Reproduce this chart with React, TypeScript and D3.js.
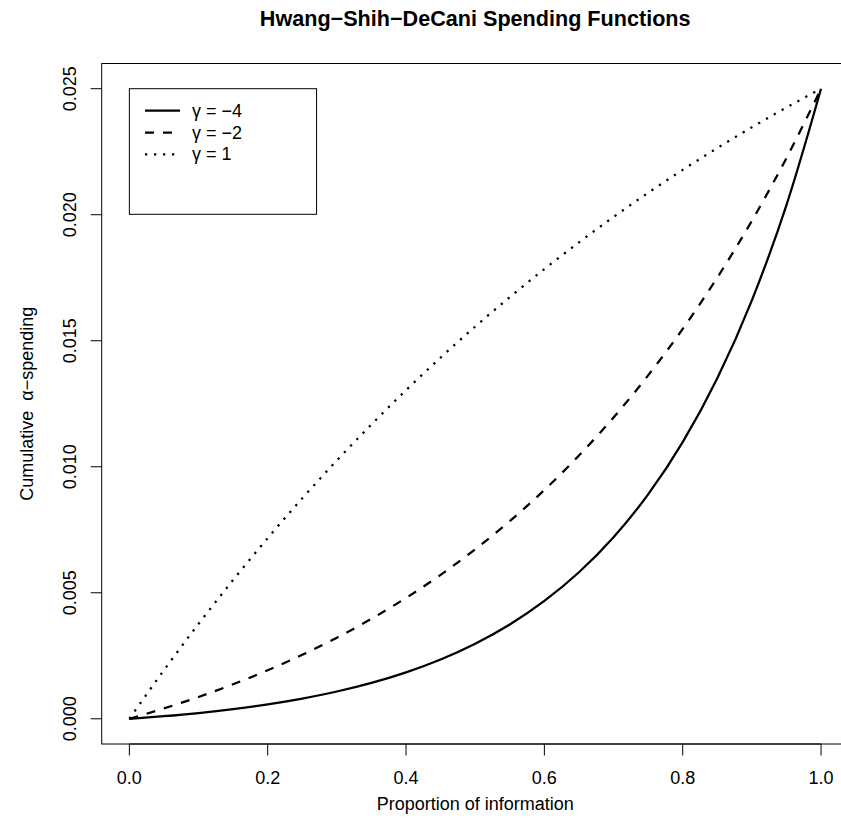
import { useRef, useEffect } from 'react'
import * as d3 from 'd3'

// proportion of information (x) — read at 0.05 steps
const infoFrac = [0, 0.05, 0.1, 0.15, 0.2, 0.25, 0.3, 0.35, 0.4, 0.45, 0.5, 0.55, 0.6, 0.65, 0.7, 0.75, 0.8, 0.85, 0.9, 0.95, 1]

// cumulative alpha spent for each gamma
const spendGammaMinus4 = [0, 0.000103, 0.000229, 0.000384, 0.000572, 0.000802, 0.001082, 0.001425, 0.001844, 0.002355, 0.00298, 0.003743, 0.004675, 0.005814, 0.007204, 0.008902, 0.010976, 0.01351, 0.016604, 0.020384, 0.025]
const spendGammaMinus2 = [0, 0.000412, 0.000866, 0.001369, 0.001925, 0.002538, 0.003217, 0.003967, 0.004795, 0.005711, 0.006724, 0.007842, 0.009078, 0.010445, 0.011955, 0.013624, 0.015468, 0.017506, 0.019759, 0.022248, 0.025]
const spendGamma1 = [0, 0.001929, 0.003764, 0.005509, 0.007169, 0.008748, 0.010251, 0.011679, 0.013039, 0.014332, 0.015562, 0.016731, 0.017844, 0.018903, 0.01991, 0.020868, 0.021779, 0.022645, 0.02347, 0.024254, 0.025]

const seriesLabels = ['γ = −4', 'γ = −2', 'γ = 1']
const xTicks = [0, 0.2, 0.4, 0.6, 0.8, 1]
const yTicks = [0, 0.005, 0.01, 0.015, 0.02, 0.025]

const FONT = '"Liberation Sans", Arial, Helvetica, sans-serif'

export default function App() {
  const svgRef = useRef<SVGSVGElement>(null)
  const width = 841
  const height = 836
  const plot = { left: 101.7, right: 848.7, top: 63.5, bottom: 744 }

  useEffect(() => {
    if (!svgRef.current) return
    const svg = d3.select(svgRef.current)
    svg.selectAll('*').remove()

    // R-style 4% padding around data range
    const xScale = d3.scaleLinear().domain([-0.04, 1.04]).range([plot.left, plot.right])
    const yScale = d3.scaleLinear().domain([-0.001, 0.026]).range([plot.bottom, plot.top])

    svg.append('rect')
      .attr('width', width).attr('height', height).attr('fill', '#fff')

    // plot box
    svg.append('rect')
      .attr('x', plot.left).attr('y', plot.top)
      .attr('width', plot.right - plot.left).attr('height', plot.bottom - plot.top)
      .attr('fill', 'none').attr('stroke', '#000').attr('stroke-width', 1)

    // x axis
    const xAxis = svg.append('g')
    xAxis.append('line')
      .attr('x1', xScale(0)).attr('x2', xScale(1))
      .attr('y1', plot.bottom).attr('y2', plot.bottom).attr('stroke', '#000')
    xTicks.forEach(t => {
      xAxis.append('line')
        .attr('x1', xScale(t)).attr('x2', xScale(t))
        .attr('y1', plot.bottom).attr('y2', plot.bottom + 11.5).attr('stroke', '#000')
      xAxis.append('text')
        .attr('x', xScale(t)).attr('y', 784)
        .attr('text-anchor', 'middle')
        .attr('font-family', FONT).attr('font-size', 18)
        .text(d3.format('.1f')(t))
    })

    // y axis
    const yAxis = svg.append('g')
    yTicks.forEach(t => {
      yAxis.append('line')
        .attr('x1', plot.left - 11).attr('x2', plot.left)
        .attr('y1', yScale(t)).attr('y2', yScale(t)).attr('stroke', '#000')
      yAxis.append('text')
        .attr('transform', `translate(76,${yScale(t)}) rotate(-90)`)
        .attr('text-anchor', 'middle')
        .attr('font-family', FONT).attr('font-size', 18)
        .text(d3.format('.3f')(t))
    })

    // axis titles
    svg.append('text')
      .attr('x', (plot.left + plot.right) / 2).attr('y', 810)
      .attr('text-anchor', 'middle')
      .attr('font-family', FONT).attr('font-size', 18)
      .text('Proportion of information')

    svg.append('text')
      .attr('transform', `translate(33,${(plot.top + plot.bottom) / 2}) rotate(-90)`)
      .attr('text-anchor', 'middle')
      .attr('font-family', FONT).attr('font-size', 18)
      .style('white-space', 'pre')
      .text('Cumulative  α−spending')

    svg.append('text')
      .attr('x', (plot.left + plot.right) / 2).attr('y', 26)
      .attr('text-anchor', 'middle')
      .attr('font-family', FONT).attr('font-size', 21.6).attr('font-weight', 'bold')
      .text('Hwang−Shih−DeCani Spending Functions')

    // curves
    const series = [
      { values: spendGammaMinus4, dash: null },
      { values: spendGammaMinus2, dash: '9,9' },
      { values: spendGamma1, dash: '2.25,6.75' }
    ]

    const line = d3.line<number>()
      .x((_, i) => xScale(infoFrac[i]))
      .y(d => yScale(d))
      .curve(d3.curveMonotoneX)

    series.forEach(s => {
      svg.append('path')
        .datum(s.values)
        .attr('d', line)
        .attr('fill', 'none')
        .attr('stroke', '#000')
        .attr('stroke-width', 2.25)
        .attr('stroke-dasharray', s.dash)
    })

    // legend
    const lg = svg.append('g')
    lg.append('rect')
      .attr('x', xScale(0)).attr('y', yScale(0.025))
      .attr('width', 187.2).attr('height', 125.6)
      .attr('fill', '#fff').attr('stroke', '#000')
    series.forEach((s, i) => {
      const y = 110.7 + i * 21.8
      lg.append('line')
        .attr('x1', 145).attr('x2', 180)
        .attr('y1', y).attr('y2', y)
        .attr('stroke', '#000').attr('stroke-width', 2.25)
        .attr('stroke-dasharray', s.dash)
      lg.append('text')
        .attr('x', 192).attr('y', y)
        .attr('dominant-baseline', 'central')
        .attr('font-family', FONT).attr('font-size', 18)
        .text(seriesLabels[i])
    })
  }, [])

  return (
    <svg
      ref={svgRef}
      width={width}
      height={height}
      style={{ position: 'absolute', left: 0, top: 0 }}
    />
  )
}
